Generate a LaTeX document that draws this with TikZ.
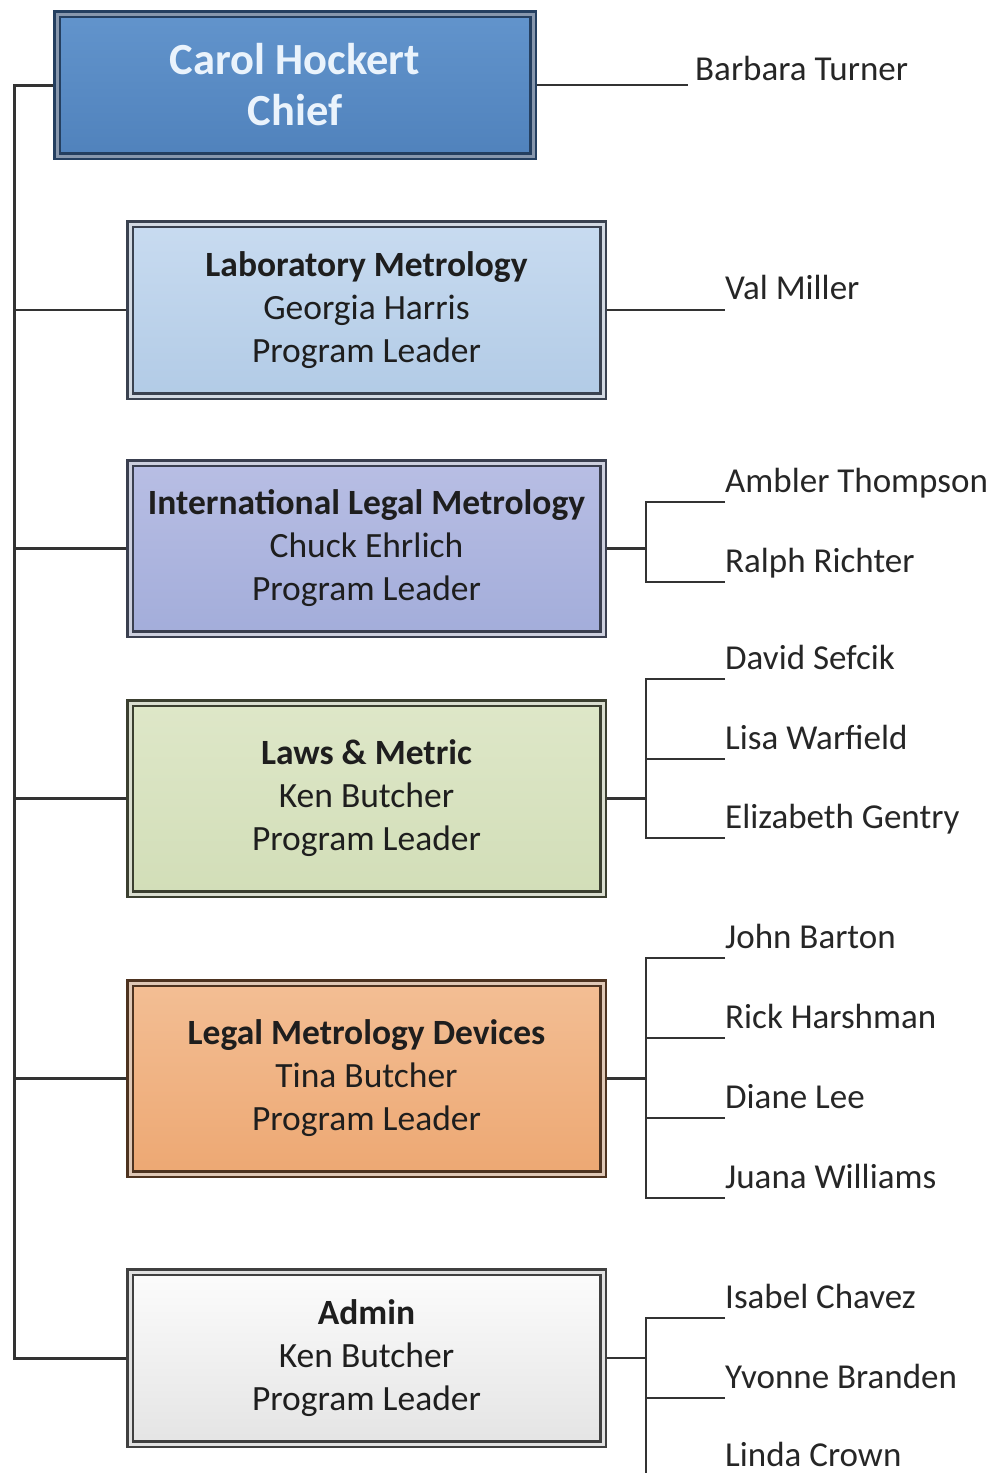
\documentclass[tikz,border=0pt]{standalone}
\usepackage{fontspec}
\setmainfont{Carlito}
\usetikzlibrary{shadows,backgrounds,calc}
\definecolor{lineC}{HTML}{333333}
\definecolor{txtC}{HTML}{1E1E1E}
\definecolor{nameC}{HTML}{262626}
\definecolor{chiefD}{HTML}{243F60}
\definecolor{chiefG}{HTML}{8797AD}
\definecolor{chiefT}{RGB}{98,148,204}
\definecolor{chiefB}{RGB}{80,130,188}
\definecolor{chiefTxt}{RGB}{234,243,252}
\definecolor{labD}{HTML}{3A4250}
\definecolor{labG}{HTML}{D3DAE3}
\definecolor{labT}{RGB}{200,219,240}
\definecolor{labB}{RGB}{178,203,230}
\definecolor{ilmD}{HTML}{3A3F4F}
\definecolor{ilmG}{HTML}{CDD0DE}
\definecolor{ilmT}{RGB}{184,190,228}
\definecolor{ilmB}{RGB}{163,173,218}
\definecolor{lawD}{HTML}{3B3F30}
\definecolor{lawG}{HTML}{DADED0}
\definecolor{lawT}{RGB}{222,231,200}
\definecolor{lawB}{RGB}{210,222,184}
\definecolor{lmdD}{HTML}{4D3320}
\definecolor{lmdG}{HTML}{DFC8B6}
\definecolor{lmdT}{RGB}{243,190,148}
\definecolor{lmdB}{RGB}{237,168,115}
\definecolor{admD}{HTML}{404040}
\definecolor{admG}{HTML}{E2E2E2}
\definecolor{admT}{RGB}{252,252,252}
\definecolor{admB}{RGB}{228,228,228}
\tikzset{
  orgbox/.style n args={3}{draw=#1D, line width=2.6pt, double=#1G, double distance=3pt, rectangle,
    top color=#1T, bottom color=#1B,
    align=center, inner sep=0pt, text=txtC,
    minimum width=#2, minimum height=#3,
    font=\fontsize{35.5}{43}\selectfont,
    drop shadow={shadow xshift=3pt, shadow yshift=-4pt, opacity=0.18, fill=black}},
  person/.style={anchor=south west, inner sep=0pt, text depth=9pt, text=nameC,
    font=\fontsize{35}{43}\selectfont},
  conn/.style={draw=lineC, line width=2.8pt},
  trunk/.style={draw=lineC, line width=3pt}
}
\begin{document}
\begin{tikzpicture}[x=1pt,y=-1pt]
\useasboundingbox (0,0) rectangle (996,1473);
\clip (0,0) rectangle (996,1473);

% boxes
\node[orgbox={chief}{476pt}{142pt}, text=chiefTxt,
  font=\fontsize{44.5}{51}\selectfont\bfseries] (chief) at (295,85) {Carol Hockert\\Chief};
\node[orgbox={lab}{473pt}{172pt}] (lab) at (366.5,310) {\textbf{Laboratory Metrology}\\Georgia Harris\\Program Leader};
\node[orgbox={ilm}{473pt}{171pt}] (ilm) at (366.5,548.5) {\textbf{International Legal Metrology}\\Chuck Ehrlich\\Program Leader};
\node[orgbox={law}{473pt}{191pt}] (laws) at (366.5,798.5) {\textbf{Laws \& Metric}\\Ken Butcher\\Program Leader};
\node[orgbox={lmd}{473pt}{191pt}] (lmd) at (366.5,1078.5) {\textbf{Legal Metrology Devices}\\Tina Butcher\\Program Leader};
\node[orgbox={adm}{473pt}{172pt}] (admin) at (366.5,1358) {\textbf{Admin}\\Ken Butcher\\Program Leader};

% people
\node[person, text depth=4pt] (barb) at (695,85) {Barbara Turner};
\node[person] (val) at (725,309) {Val Miller};
\node[person] (amb) at (725,502) {Ambler Thompson};
\node[person] (ral) at (725,582) {Ralph Richter};
\node[person] (dav) at (725,679) {David Sefcik};
\node[person] (lis) at (725,759) {Lisa Warfield};
\node[person] (eli) at (725,838) {Elizabeth Gentry};
\node[person] (joh) at (725,958) {John Barton};
\node[person] (ric) at (725,1038) {Rick Harshman};
\node[person] (dia) at (725,1118) {Diane Lee};
\node[person] (jua) at (725,1198) {Juana Williams};
\node[person] (isa) at (725,1318) {Isabel Chavez};
\node[person] (yvo) at (725,1398) {Yvonne Branden};
\node[person] (lin) at (725,1476) {Linda Crown};

% junctions
\coordinate (tr) at (14,0);
\coordinate (jx) at (646,0);

\begin{pgfonlayer}{background}
\draw[trunk] (chief.west) -| (tr |- admin.west) -- (admin.west);
\foreach \b in {lab,ilm,laws,lmd}{
  \draw[conn] (tr |- \b.west) -- (\b.west);
}
\draw[conn] (chief.east) -- ($(barb.south west)+(-7,0)$);
\draw[conn] (lab.east) -- (lab.east -| val.south west);
\draw[conn] (ilm.east) -- (jx |- ilm.east);
\draw[conn] (amb.south west) -| (jx |- ral.south west) -- (ral.south west);
\draw[conn] (laws.east) -- (jx |- laws.east);
\draw[conn] (dav.south west) -| (jx |- eli.south west) -- (eli.south west);
\draw[conn] (jx |- lis.south west) -- (lis.south west);
\draw[conn] (lmd.east) -- (jx |- lmd.east);
\draw[conn] (joh.south west) -| (jx |- jua.south west) -- (jua.south west);
\draw[conn] (jx |- ric.south west) -- (ric.south west);
\draw[conn] (jx |- dia.south west) -- (dia.south west);
\draw[conn] (admin.east) -- (jx |- admin.east);
\draw[conn] (isa.south west) -| (jx |- lin.south west) -- (lin.south west);
\draw[conn] (jx |- yvo.south west) -- (yvo.south west);
\end{pgfonlayer}
\end{tikzpicture}
\end{document}
